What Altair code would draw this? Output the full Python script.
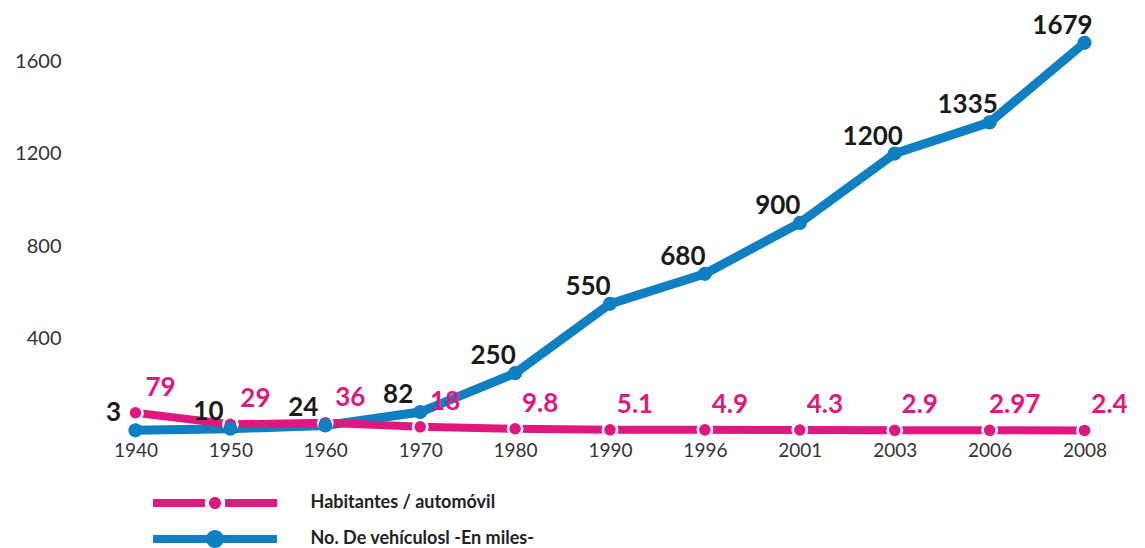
import altair as alt
import pandas as pd

years = ["1940", "1950", "1960", "1970", "1980", "1990", "1996", "2001", "2003", "2006", "2008"]
vehiculos = [3, 10, 24, 82, 250, 550, 680, 900, 1200, 1335, 1679]
habitantes = [79, 29, 36, 18, 9.8, 5.1, 4.9, 4.3, 2.9, 2.97, 2.4]
series_hab = "Habitantes / automóvil"
series_veh = "No. De vehículosl -En miles-"
y_ticks = [400, 800, 1200, 1600]

PINK = "#E0187E"
BLUE = "#0F7FC4"
DARK = "#1a1a1a"

rows = []
for yr, v in zip(years, vehiculos):
    rows.append({"year": yr, "value": v, "series": series_veh, "label": str(v)})
for yr, h in zip(years, habitantes):
    rows.append({"year": yr, "value": h, "series": series_hab, "label": str(h)})
df = pd.DataFrame(rows)

PINK_PATH = ("M-4,-0.26H-0.65V0.26H-4Z M0.65,-0.26H4V0.26H0.65Z "
             "M-0.39,0A0.39,0.39 0 1,1 0.39,0A0.39,0.39 0 1,1 -0.39,0Z")
BLUE_PATH = ("M-4,-0.26H4V0.26H-4Z "
             "M-0.58,0A0.58,0.58 0 1,1 0.58,0A0.58,0.58 0 1,1 -0.58,0Z")

x = alt.X("year:O", sort=years, scale=alt.Scale(type="point", padding=0.3),
          axis=alt.Axis(title=None, labelAngle=0, domain=False, ticks=False,
                        labelPadding=10, labelFontSize=19, labelColor="#333",
                        labelFont="Lato", grid=False))
y = alt.Y("value:Q", scale=alt.Scale(domain=[0, 1700], nice=False, zero=True),
          axis=alt.Axis(title=None, values=y_ticks, format="d", domain=False, ticks=False,
                        tickSize=0, grid=False, labelPadding=46, labelFontSize=20,
                        labelColor="#333", labelFont="Lato"))

base = alt.Chart(df).encode(x=x, y=y)
veh = base.transform_filter(alt.datum.series == series_veh)
hab = base.transform_filter(alt.datum.series == series_hab)

veh_line = veh.mark_line(strokeWidth=9, color=BLUE)
hab_line = hab.mark_line(strokeWidth=8, color=PINK)
hab_halo = hab.mark_circle(size=283, color="white", opacity=1)
hab_pts = hab.mark_circle(size=133, color=PINK, opacity=1)
veh_pts = veh.mark_circle(size=201, color=BLUE, opacity=1)
veh_txt = veh.mark_text(fontSize=26, fontWeight="bold", font="Lato", color=DARK,
                        dx=-22, dy=-17).encode(text="label:N")
hab_txt = hab.mark_text(fontSize=26, fontWeight="bold", font="Lato", color=PINK,
                        dx=25, dy=-25).encode(text="label:N")

leg = dict(title=None, orient="none", legendX=92.5, legendY=449.5,
           symbolSize=961, rowPadding=11, labelOffset=80, labelFontSize=18,
           labelFont="Lato", labelFontWeight="bold", labelColor="#222",
           symbolOpacity=1, symbolStrokeWidth=0, labelLimit=400)
legend_layer = base.mark_point(filled=True, opacity=0).encode(
    color=alt.Color("series:N", scale=alt.Scale(domain=[series_hab, series_veh], range=[PINK, BLUE]),
                    legend=alt.Legend(**leg)),
    shape=alt.Shape("series:N", scale=alt.Scale(domain=[series_hab, series_veh], range=[PINK_PATH, BLUE_PATH]),
                    legend=alt.Legend(**leg)),
)

chart = alt.layer(veh_line, hab_line, hab_halo, hab_pts, veh_pts, veh_txt, hab_txt,
                  legend_layer).properties(
    width=1006, height=393,
    autosize=alt.AutoSizeParams(type="none"),
    padding={"left": 99, "top": 30, "right": 24, "bottom": 117},
).configure_view(stroke=None)

chart.save("out.html", embed_options={"renderer": "svg", "actions": False})
